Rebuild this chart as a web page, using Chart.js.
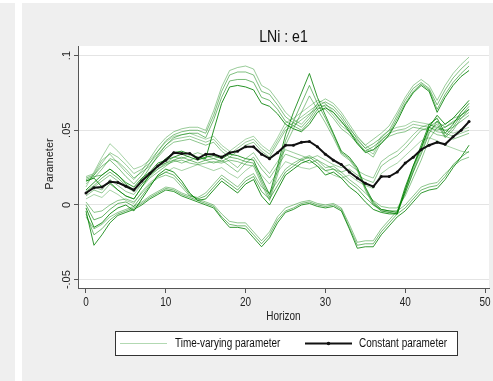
<!DOCTYPE html>
<html>
<head>
<meta charset="utf-8">
<script src="https://cdn.jsdelivr.net/npm/chart.js@4.4.1/dist/chart.umd.min.js"></script>
<style>
  body { margin: 0; background: #fff; }
  #wrap { position: relative; width: 493px; height: 381px; overflow: hidden; }
  .bg { position: absolute; background: #efefef; }
  #chart { position: absolute; left: 0; top: 0; }
</style>
</head>
<body>
<div id="wrap">
  <div class="bg" style="left:0;top:3px;width:15px;height:378px"></div>
  <div class="bg" style="left:22px;top:3px;width:471px;height:378px"></div>
  <canvas id="chart" width="493" height="381"></canvas>
</div>
<script>
const FONT = "'Liberation Sans', Arial, sans-serif";
const SQUEEZE = 0.83;   // the picture's text is horizontally narrow

const horizon = [0,1,2,3,4,5,6,7,8,9,10,11,12,13,14,15,16,17,18,19,20,21,22,23,24,25,26,27,28,29,30,31,32,33,34,35,36,37,38,39,40,41,42,43,44,45,46,47,48];
const xTicks = [0, 10, 20, 30, 40, 50];
const yTicks = [-0.05, 0, 0.05, 0.1];
const yTickLabels = ['-.05', '0', '.05', '.1'];

// constant parameter
const constant = [0.008,0.0115,0.012,0.0155,0.015,0.0125,0.010,0.016,0.021,0.026,0.030,0.035,0.0345,0.0345,0.031,0.034,0.034,0.032,0.035,0.036,0.039,0.039,0.034,0.031,0.035,0.040,0.040,0.042,0.0425,0.039,0.034,0.030,0.027,0.022,0.018,0.0145,0.0123,0.019,0.019,0.022,0.028,0.032,0.037,0.040,0.042,0.0406,0.0457,0.050,0.0558];

// time-varying parameter paths
const p1 = [0.019,0.021,0.030,0.034,0.028,0.022,0.017,0.023,0.031,0.039,0.045,0.049,0.051,0.052,0.052,0.050,0.063,0.079,0.090,0.092,0.093,0.091,0.080,0.077,0.070,0.062,0.057,0.054,0.060,0.068,0.071,0.068,0.062,0.054,0.046,0.040,0.044,0.048,0.053,0.062,0.072,0.080,0.084,0.080,0.070,0.080,0.088,0.094,0.099];
const p2 = [0.018,0.020,0.026,0.030,0.025,0.019,0.014,0.020,0.028,0.036,0.043,0.047,0.049,0.050,0.050,0.048,0.060,0.076,0.087,0.089,0.089,0.087,0.076,0.074,0.067,0.059,0.055,0.052,0.058,0.066,0.069,0.066,0.060,0.052,0.044,0.038,0.041,0.045,0.050,0.060,0.070,0.078,0.082,0.078,0.067,0.077,0.085,0.091,0.096];
const p3 = [0.017,0.019,0.020,0.024,0.020,0.014,0.010,0.017,0.025,0.033,0.040,0.045,0.047,0.048,0.048,0.045,0.057,0.072,0.083,0.084,0.084,0.082,0.072,0.070,0.064,0.056,0.053,0.050,0.056,0.064,0.067,0.064,0.058,0.050,0.042,0.036,0.039,0.043,0.048,0.058,0.068,0.076,0.081,0.077,0.064,0.074,0.082,0.088,0.093];
const p4 = [0.016,0.018,0.012,0.015,0.010,0.006,0.004,0.012,0.020,0.026,0.031,0.035,0.036,0.034,0.032,0.031,0.050,0.068,0.079,0.080,0.079,0.077,0.068,0.066,0.061,0.054,0.051,0.049,0.054,0.062,0.065,0.062,0.056,0.049,0.041,0.035,0.037,0.041,0.047,0.056,0.067,0.075,0.080,0.076,0.062,0.072,0.080,0.086,0.090];
const q1 = [0.010,0.015,0.020,0.024,0.020,0.015,0.012,0.018,0.022,0.028,0.030,0.032,0.034,0.032,0.030,0.032,0.033,0.031,0.034,0.033,0.031,0.030,0.018,0.007,0.026,0.047,0.062,0.075,0.088,0.072,0.060,0.048,0.036,0.032,0.025,0.012,0.002,-0.003,-0.004,-0.005,0.012,0.026,0.040,0.054,0.058,0.048,0.054,0.062,0.068];
const q2 = [0.009,0.013,0.018,0.022,0.018,0.013,0.010,0.016,0.020,0.026,0.028,0.030,0.032,0.030,0.028,0.030,0.031,0.029,0.032,0.031,0.029,0.028,0.016,0.005,0.023,0.043,0.056,0.068,0.080,0.068,0.058,0.047,0.035,0.031,0.024,0.011,0.001,-0.004,-0.005,-0.006,0.010,0.024,0.038,0.052,0.056,0.046,0.052,0.060,0.066];
const q3 = [0.008,0.012,0.016,0.020,0.016,0.012,0.009,0.014,0.019,0.024,0.027,0.029,0.030,0.028,0.027,0.028,0.029,0.028,0.030,0.029,0.027,0.026,0.014,0.003,0.020,0.040,0.051,0.062,0.073,0.064,0.055,0.045,0.034,0.030,0.023,0.010,0.000,-0.004,-0.005,-0.006,0.008,0.022,0.036,0.050,0.054,0.045,0.050,0.058,0.064];
const z1 = [-0.002,-0.015,-0.012,-0.006,-0.002,0.000,-0.004,0.004,0.012,0.020,0.024,0.022,0.016,0.008,0.003,0.004,0.010,0.016,0.012,0.008,0.014,0.017,0.006,0.000,0.010,0.020,0.024,0.028,0.030,0.026,0.020,0.022,0.018,0.012,0.008,0.002,-0.003,-0.005,-0.006,-0.006,0.010,0.026,0.038,0.052,0.060,0.054,0.058,0.064,0.070];
const z2 = [0.000,-0.010,-0.008,-0.003,0.001,0.002,-0.001,0.006,0.013,0.019,0.022,0.020,0.014,0.007,0.004,0.006,0.012,0.018,0.014,0.010,0.016,0.019,0.009,0.004,0.013,0.022,0.026,0.030,0.032,0.028,0.023,0.024,0.020,0.015,0.011,0.005,0.000,-0.003,-0.004,-0.004,0.008,0.022,0.034,0.048,0.056,0.052,0.055,0.060,0.064];
const z3 = [0.002,-0.005,-0.004,0.000,0.003,0.004,0.002,0.008,0.014,0.018,0.020,0.018,0.012,0.006,0.005,0.008,0.014,0.020,0.016,0.012,0.018,0.021,0.012,0.008,0.016,0.024,0.028,0.031,0.033,0.030,0.025,0.026,0.022,0.017,0.013,0.008,0.003,-0.001,-0.002,-0.002,0.006,0.018,0.030,0.044,0.052,0.050,0.052,0.056,0.060];
const m1 = [0.006,0.010,0.008,0.014,0.010,0.006,0.004,0.012,0.018,0.022,0.026,0.030,0.028,0.030,0.032,0.030,0.028,0.030,0.026,0.022,0.028,0.032,0.024,0.018,0.026,0.034,0.032,0.030,0.028,0.030,0.027,0.024,0.022,0.024,0.020,0.017,0.015,0.026,0.030,0.033,0.038,0.044,0.050,0.052,0.050,0.052,0.056,0.058,0.062];
const m2 = [0.008,0.012,0.010,0.017,0.013,0.009,0.007,0.014,0.020,0.024,0.028,0.032,0.031,0.033,0.035,0.033,0.031,0.033,0.029,0.025,0.031,0.035,0.027,0.021,0.029,0.037,0.035,0.033,0.031,0.033,0.030,0.027,0.025,0.027,0.023,0.020,0.018,0.029,0.033,0.036,0.041,0.047,0.052,0.054,0.052,0.054,0.058,0.060,0.064];
const m3 = [0.004,0.007,0.005,0.010,0.007,0.003,0.001,0.009,0.015,0.019,0.022,0.025,0.023,0.025,0.027,0.025,0.023,0.025,0.021,0.018,0.023,0.027,0.020,0.014,0.022,0.029,0.027,0.025,0.024,0.026,0.023,0.020,0.018,0.020,0.016,0.013,0.011,0.021,0.025,0.028,0.033,0.038,0.043,0.045,0.043,0.040,0.038,0.036,0.035];
const u1 = [0.012,0.022,0.032,0.041,0.036,0.030,0.024,0.026,0.030,0.036,0.042,0.046,0.047,0.048,0.046,0.044,0.046,0.040,0.036,0.040,0.044,0.046,0.040,0.036,0.045,0.055,0.058,0.062,0.066,0.070,0.068,0.062,0.055,0.051,0.045,0.040,0.036,0.046,0.050,0.052,0.053,0.056,0.055,0.054,0.051,0.050,0.048,0.050,0.052];
const u2 = [0.014,0.020,0.028,0.035,0.032,0.027,0.021,0.024,0.028,0.034,0.040,0.044,0.045,0.046,0.044,0.042,0.044,0.038,0.034,0.038,0.042,0.044,0.038,0.034,0.043,0.052,0.055,0.059,0.063,0.067,0.066,0.060,0.053,0.049,0.043,0.038,0.034,0.044,0.048,0.050,0.051,0.054,0.053,0.052,0.049,0.048,0.046,0.048,0.050];
const u3 = [0.016,0.018,0.024,0.031,0.029,0.024,0.018,0.022,0.026,0.032,0.038,0.042,0.043,0.044,0.042,0.040,0.042,0.036,0.032,0.036,0.040,0.042,0.036,0.032,0.041,0.050,0.053,0.057,0.061,0.065,0.064,0.058,0.051,0.047,0.041,0.036,0.032,0.042,0.046,0.048,0.049,0.052,0.051,0.050,0.047,0.046,0.044,0.046,0.048];
const l1 = [-0.004,-0.027,-0.020,-0.012,-0.007,-0.005,-0.003,0.000,0.004,0.007,0.010,0.009,0.006,0.004,0.002,0.000,-0.002,-0.009,-0.015,-0.015,-0.016,-0.022,-0.028,-0.022,-0.012,-0.005,-0.003,0.000,0.001,-0.001,-0.002,-0.001,-0.004,-0.016,-0.029,-0.028,-0.028,-0.020,-0.014,-0.008,-0.004,0.002,0.008,0.010,0.011,0.017,0.025,0.032,0.040];
const l2 = [-0.006,-0.020,-0.016,-0.010,-0.006,-0.004,-0.002,0.001,0.005,0.008,0.011,0.010,0.007,0.005,0.003,0.001,-0.001,-0.008,-0.013,-0.014,-0.014,-0.020,-0.026,-0.020,-0.010,-0.004,-0.002,0.001,0.002,0.000,-0.001,0.000,-0.003,-0.015,-0.027,-0.026,-0.026,-0.018,-0.012,-0.006,-0.002,0.004,0.010,0.012,0.013,0.019,0.027,0.032,0.036];
const l3 = [-0.008,-0.016,-0.013,-0.008,-0.005,-0.003,-0.001,0.002,0.006,0.009,0.012,0.011,0.008,0.006,0.004,0.002,0.000,-0.006,-0.011,-0.012,-0.012,-0.018,-0.024,-0.018,-0.008,-0.002,0.000,0.002,0.003,0.001,0.000,0.001,-0.002,-0.013,-0.025,-0.024,-0.024,-0.016,-0.010,-0.004,0.000,0.006,0.012,0.014,0.015,0.021,0.026,0.030,0.032];

const paths  = [p1, p2, p3, p4, q1, q2, q3, z1, z2, z3, m1, m2, m3, u1, u2, u3, l1, l2, l3];
const alphas = [0.4, 0.5, 0.55, 0.85, 0.8, 0.55, 0.45, 0.85, 0.6, 0.45, 0.45, 0.4, 0.35, 0.35, 0.4, 0.45, 0.8, 0.55, 0.45];

const GREEN_LEGEND = 'rgba(0,128,0,0.3)';
const BLACK = '#111';

const datasets = [{
  label: 'Constant parameter',
  data: horizon.map((h, i) => ({x: h, y: constant[i]})),
  borderColor: BLACK,
  backgroundColor: BLACK,
  borderWidth: 2,
  pointRadius: 1.5,
  pointBorderWidth: 0
}];
paths.forEach((p, k) => {
  datasets.push({
    label: 'Time-varying parameter',
    data: horizon.map((h, i) => ({x: h, y: p[i]})),
    borderColor: 'rgba(0,128,0,' + alphas[k] + ')',
    borderWidth: 1,
    pointRadius: 0
  });
});

// text squeezed along x like the picture
function narrowText(ctx, text, x, y, align) {
  ctx.save();
  ctx.translate(x, y);
  ctx.scale(SQUEEZE, 1);
  ctx.textAlign = align;
  ctx.fillText(text, 0, 0);
  ctx.restore();
}

// title, ticks labels, axis titles, legend box
const extras = {
  id: 'extras',
  beforeDraw(chart) {
    const {ctx, chartArea: a} = chart;
    ctx.save();
    ctx.fillStyle = '#fff';
    ctx.fillRect(a.left, a.top, a.right - a.left, a.bottom - a.top);
    ctx.restore();
  },
  afterDraw(chart) {
    const ctx = chart.ctx;
    const a = chart.chartArea;
    const x = chart.scales.x;
    const y = chart.scales.y;
    ctx.save();
    ctx.fillStyle = '#111';
    ctx.textBaseline = 'middle';
    ctx.font = '17px ' + FONT;
    narrowText(ctx, 'LNi : e1', (a.left + a.right) / 2, 37, 'center');

    ctx.fillStyle = '#222';
    ctx.font = '12px ' + FONT;
    xTicks.forEach(v => narrowText(ctx, String(v), x.getPixelForValue(v), 303, 'center'));
    narrowText(ctx, 'Horizon', (a.left + a.right) / 2, 317, 'center');

    ctx.font = '11px ' + FONT;
    ctx.textAlign = 'center';
    yTicks.forEach((v, i) => {
      ctx.save();
      ctx.translate(67, y.getPixelForValue(v));
      ctx.rotate(-Math.PI / 2);
      ctx.fillText(yTickLabels[i], 0, 0);
      ctx.restore();
    });
    ctx.save();
    ctx.translate(50, (a.top + a.bottom) / 2 - 3);
    ctx.rotate(-Math.PI / 2);
    ctx.fillText('Parameter', 0, 0);
    ctx.restore();

    // legend
    ctx.fillStyle = '#fff';
    ctx.fillRect(115.5, 331.5, 342, 24);
    ctx.strokeStyle = '#333';
    ctx.lineWidth = 1;
    ctx.strokeRect(115.5, 331.5, 342, 24);
    ctx.strokeStyle = GREEN_LEGEND;
    ctx.beginPath(); ctx.moveTo(120, 343.5); ctx.lineTo(167, 343.5); ctx.stroke();
    ctx.strokeStyle = BLACK;
    ctx.lineWidth = 2;
    ctx.beginPath(); ctx.moveTo(305, 343.5); ctx.lineTo(352, 343.5); ctx.stroke();
    ctx.fillStyle = BLACK;
    ctx.beginPath(); ctx.arc(328.5, 343.5, 1.8, 0, Math.PI * 2); ctx.fill();
    ctx.fillStyle = '#111';
    ctx.font = '12px ' + FONT;
    narrowText(ctx, 'Time-varying parameter', 175, 344, 'left');
    narrowText(ctx, 'Constant parameter', 359, 344, 'left');
    ctx.restore();
  }
};

new Chart(document.getElementById('chart'), {
  type: 'line',
  data: { datasets: datasets },
  options: {
    responsive: false,
    animation: false,
    devicePixelRatio: 1,
    layout: { padding: { left: 22, top: 46, right: 3, bottom: 0 } },
    plugins: { legend: { display: false }, tooltip: { enabled: false } },
    elements: { line: { tension: 0 } },
    scales: {
      x: {
        type: 'linear',
        min: -1,
        max: 50.5,
        afterBuildTicks: s => { s.ticks = xTicks.map(v => ({value: v})); },
        afterFit: s => { s.height = 93; },
        ticks: { display: false },
        grid: { drawOnChartArea: false, drawTicks: true, tickLength: 5, tickColor: '#555' },
        border: { color: '#555', width: 1 }
      },
      y: {
        type: 'linear',
        min: -0.0556,
        max: 0.1064,
        afterBuildTicks: s => { s.ticks = yTicks.map(v => ({value: v})); },
        afterFit: s => { s.width = 56; },
        ticks: { display: false },
        grid: { color: '#e4e4e4', lineWidth: 1, drawTicks: true, tickLength: 4, tickColor: '#555' },
        border: { color: '#555', width: 1 }
      }
    }
  },
  plugins: [extras]
});
</script>
</body>
</html>
